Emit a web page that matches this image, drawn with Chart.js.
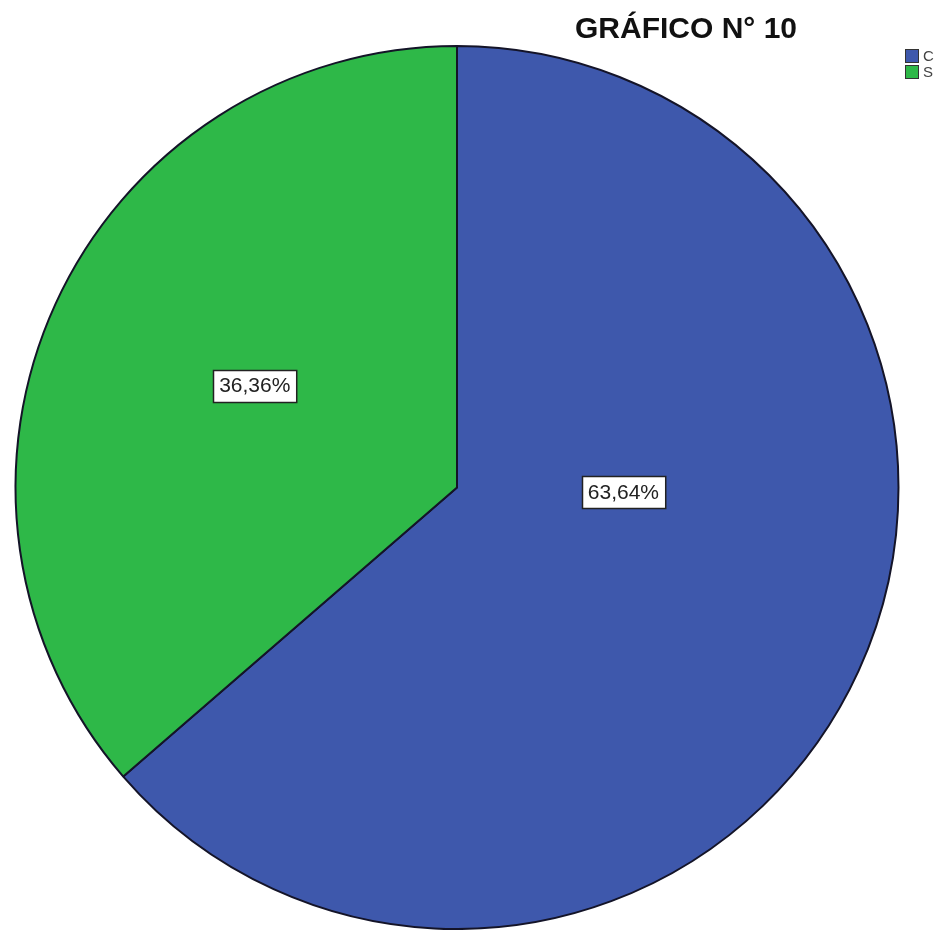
<!DOCTYPE html>
<html>
<head>
<meta charset="utf-8">
<script src="https://cdn.jsdelivr.net/npm/chart.js@4"></script>
<style>
  body { margin: 0; background: #fff; }
  #wrap { width: 947px; height: 930px; }
</style>
</head>
<body>
<div id="wrap"><canvas id="pieChart" width="947" height="930"></canvas></div>
<script>
// Data
const categories = ['C', 'S'];
const percents = [63.64, 36.36];
const sliceColors = ['#3E58AC', '#2EB848'];
const chartTitle = 'GRÁFICO N° 10';

// where SPSS dropped each value box: angle shift from the slice middle (deg) and fraction of radius
const labelShift = [-23.1, 2.2];
const labelDist = [0.377, 0.513];

const fmt = v => v.toFixed(2).replace('.', ',') + '%';

// title, value boxes and the little legend drawn after the pie
const extras = {
  id: 'extras',
  afterDraw(chart) {
    const c = chart.ctx;
    const meta = chart.getDatasetMeta(0);

    // value boxes
    c.save();
    c.font = '21px "Liberation Sans", Arial, sans-serif';
    c.textAlign = 'center';
    c.textBaseline = 'middle';
    meta.data.forEach((arc, i) => {
      const mid = (arc.startAngle + arc.endAngle) / 2 + labelShift[i] * Math.PI / 180;
      const x = arc.x + Math.cos(mid) * arc.outerRadius * labelDist[i];
      const y = arc.y + Math.sin(mid) * arc.outerRadius * labelDist[i];
      const txt = fmt(percents[i]);
      const w = c.measureText(txt).width + 12;
      const h = 32;
      c.fillStyle = '#fff';
      c.fillRect(Math.round(x - w / 2) + 0.5, Math.round(y - h / 2) + 0.5, w, h);
      c.strokeStyle = '#222';
      c.lineWidth = 1.5;
      c.strokeRect(Math.round(x - w / 2) + 0.5, Math.round(y - h / 2) + 0.5, w, h);
      c.fillStyle = '#222';
      c.fillText(txt, x, y + 1);
    });

    // title
    c.font = 'bold 30px "Liberation Sans", Arial, sans-serif';
    c.fillStyle = '#111';
    c.fillText(chartTitle, 686, 30);

    // legend
    c.font = '15px "Liberation Sans", Arial, sans-serif';
    c.textAlign = 'left';
    categories.forEach((lab, i) => {
      const y = 49 + i * 16;
      c.fillStyle = sliceColors[i];
      c.fillRect(905, y, 14, 14);
      c.strokeStyle = '#333';
      c.lineWidth = 1;
      c.strokeRect(905.5, y + 0.5, 13, 13);
      c.fillStyle = '#444';
      c.fillText(lab, 923, y + 8);
    });
    c.restore();
  }
};

new Chart(document.getElementById('pieChart'), {
  type: 'pie',
  data: {
    labels: categories,
    datasets: [{
      data: percents,
      backgroundColor: sliceColors,
      borderColor: '#141428',
      borderWidth: 2
    }]
  },
  options: {
    responsive: false,
    animation: false,
    layout: { padding: { left: 14, right: 47, top: 45, bottom: 0 } },
    plugins: {
      legend: { display: false },
      tooltip: { enabled: false }
    }
  },
  plugins: [extras]
});
</script>
</body>
</html>
